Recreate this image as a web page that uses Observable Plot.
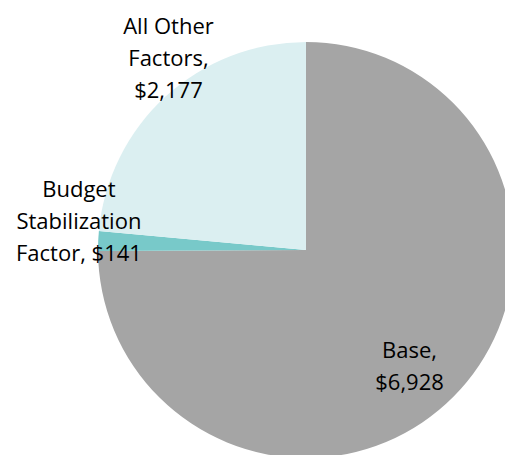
<!DOCTYPE html>
<html>
<head>
<meta charset="utf-8">
<script src="https://cdn.jsdelivr.net/npm/d3@7"></script>
<script src="https://cdn.jsdelivr.net/npm/@observablehq/plot@0.6"></script>
<style>
  html, body { margin: 0; padding: 0; background: #fff; }
  #chart svg { display: block; }
</style>
</head>
<body>
<div id="chart"></div>
<script>
// Data (clockwise from 12 o'clock)
const categories = ["Base", "Budget Stabilization Factor", "All Other Factors"];
const values = [6928, 141, 2177];
const labels = ["Base,\n$6,928", "Budget\nStabilization\nFactor, $141", "All Other\nFactors,\n$2,177"];
const colors = ["#a5a5a5", "#78c9c9", "#dbeff1"];

const W = 505, H = 455;
const cx = 306, cy = 250, R = 208;

const pie = d3.pie().sort(null).value(d => d.value);
const arcs = pie(categories.map((c, i) => ({category: c, value: values[i], label: labels[i], color: colors[i]})));

// label placement: radius factor and pixel nudges
const labelR = [0.76, 1.1, 1.12];
const nudgeX = [-9, 1, 19];
const nudgeY = [2, -22, -23];

const labelData = arcs.map((a, i) => {
  const mid = (a.startAngle + a.endAngle) / 2;
  return {
    label: a.data.label,
    x: Math.sin(mid) * labelR[i],
    y: Math.cos(mid) * labelR[i],
    dx: nudgeX[i],
    dy: nudgeY[i]
  };
});

const pieMark = (index, scales) => {
  const r = scales.x(1) - scales.x(0);
  const g = d3.create("svg:g")
    .attr("transform", `translate(${scales.x(0)},${scales.y(0)})`);
  const arcGen = d3.arc().innerRadius(0).outerRadius(r);
  g.selectAll("path").data(arcs).join("path")
    .attr("d", arcGen)
    .attr("fill", d => d.data.color);
  return g.node();
};

const plot = Plot.plot({
  width: W,
  height: H,
  margin: 0,
  x: {domain: [-cx / R, (W - cx) / R], axis: null},
  y: {domain: [-(H - cy) / R, cy / R], axis: null},
  style: {fontFamily: "'Open Sans', sans-serif", background: "#fff"},
  marks: [
    pieMark,
    ...labelData.map(d => Plot.text([d], {
      x: "x", y: "y", text: "label",
      dx: d.dx, dy: d.dy,
      fontSize: 22, lineHeight: 1.45,
      fill: "#000", textAnchor: "middle"
    }))
  ]
});

document.getElementById("chart").appendChild(plot);
</script>
</body>
</html>
